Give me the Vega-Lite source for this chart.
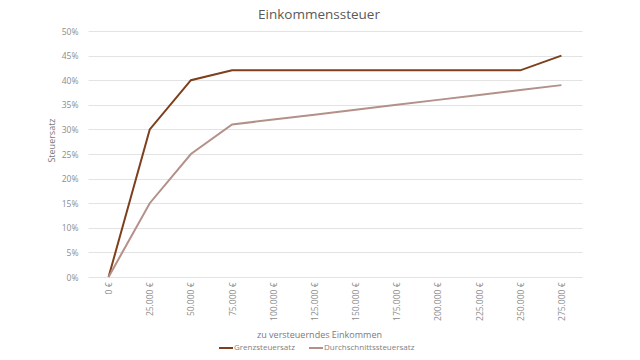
{
  "$schema": "https://vega.github.io/schema/vega-lite/v6.json",
  "autosize": "none",
  "width": 494,
  "height": 246,
  "padding": {"left": 88, "top": 31, "right": 58, "bottom": 83},
  "background": "white",
  "config": {
    "font": "Open Sans",
    "view": {"stroke": null},
    "axis": {"labelColor": "#8c8c8c", "titleColor": "#7a7a7a", "labelFontSize": 8.5, "titleFontSize": 9, "titleFontWeight": "normal", "labelFont": "Open Sans", "titleFont": "Open Sans", "labelOverlap": false}
  },
  "title": {"text": "Einkommenssteuer", "fontSize": 13.5, "fontWeight": "normal", "color": "#595959", "font": "Open Sans", "offset": 6, "anchor": "middle", "dx": -16},
  "data": {"values": [
    {"Einkommen": "0 €", "Reihe": "Grenzsteuersatz", "Satz": 0},
    {"Einkommen": "25.000 €", "Reihe": "Grenzsteuersatz", "Satz": 0.30},
    {"Einkommen": "50.000 €", "Reihe": "Grenzsteuersatz", "Satz": 0.40},
    {"Einkommen": "75.000 €", "Reihe": "Grenzsteuersatz", "Satz": 0.42},
    {"Einkommen": "100.000 €", "Reihe": "Grenzsteuersatz", "Satz": 0.42},
    {"Einkommen": "125.000 €", "Reihe": "Grenzsteuersatz", "Satz": 0.42},
    {"Einkommen": "150.000 €", "Reihe": "Grenzsteuersatz", "Satz": 0.42},
    {"Einkommen": "175.000 €", "Reihe": "Grenzsteuersatz", "Satz": 0.42},
    {"Einkommen": "200.000 €", "Reihe": "Grenzsteuersatz", "Satz": 0.42},
    {"Einkommen": "225.000 €", "Reihe": "Grenzsteuersatz", "Satz": 0.42},
    {"Einkommen": "250.000 €", "Reihe": "Grenzsteuersatz", "Satz": 0.42},
    {"Einkommen": "275.000 €", "Reihe": "Grenzsteuersatz", "Satz": 0.45},
    {"Einkommen": "0 €", "Reihe": "Durchschnittssteuersatz", "Satz": 0},
    {"Einkommen": "25.000 €", "Reihe": "Durchschnittssteuersatz", "Satz": 0.15},
    {"Einkommen": "50.000 €", "Reihe": "Durchschnittssteuersatz", "Satz": 0.25},
    {"Einkommen": "75.000 €", "Reihe": "Durchschnittssteuersatz", "Satz": 0.31},
    {"Einkommen": "100.000 €", "Reihe": "Durchschnittssteuersatz", "Satz": 0.32},
    {"Einkommen": "125.000 €", "Reihe": "Durchschnittssteuersatz", "Satz": 0.33},
    {"Einkommen": "150.000 €", "Reihe": "Durchschnittssteuersatz", "Satz": 0.34},
    {"Einkommen": "175.000 €", "Reihe": "Durchschnittssteuersatz", "Satz": 0.35},
    {"Einkommen": "200.000 €", "Reihe": "Durchschnittssteuersatz", "Satz": 0.36},
    {"Einkommen": "225.000 €", "Reihe": "Durchschnittssteuersatz", "Satz": 0.37},
    {"Einkommen": "250.000 €", "Reihe": "Durchschnittssteuersatz", "Satz": 0.38},
    {"Einkommen": "275.000 €", "Reihe": "Durchschnittssteuersatz", "Satz": 0.39}
  ]},
  "mark": {"type": "line", "strokeWidth": 2},
  "encoding": {
    "x": {
      "field": "Einkommen", "type": "ordinal", "sort": null,
      "scale": {"type": "point", "padding": 0.5},
      "axis": {"title": "zu versteuerndes Einkommen", "labelAngle": -90, "ticks": false, "domain": false, "grid": false, "labelPadding": 5, "titlePadding": 10, "titleX": 231}
    },
    "y": {
      "field": "Satz", "type": "quantitative",
      "scale": {"domain": [0, 0.5], "nice": false},
      "axis": {"title": "Steuersatz", "format": ".0%", "values": [0,0.05,0.1,0.15,0.2,0.25,0.3,0.35,0.4,0.45,0.5], "ticks": false, "domain": false, "gridColor": "#e3e3e3", "labelPadding": 10, "titlePadding": 5, "titleY": 109}
    },
    "color": {
      "field": "Reihe", "type": "nominal",
      "scale": {"domain": ["Grenzsteuersatz", "Durchschnittssteuersatz"], "range": ["#7e3f1c", "#b39189"]},
      "legend": {"title": null, "orient": "none", "legendX": 130, "legendY": 309, "direction": "horizontal", "symbolType": "stroke", "symbolSize": 196, "symbolStrokeWidth": 2, "labelFontSize": 8, "labelColor": "#7f7f7f", "labelFont": "Open Sans", "columnPadding": 10, "labelOffset": 0}
    }
  }
}
